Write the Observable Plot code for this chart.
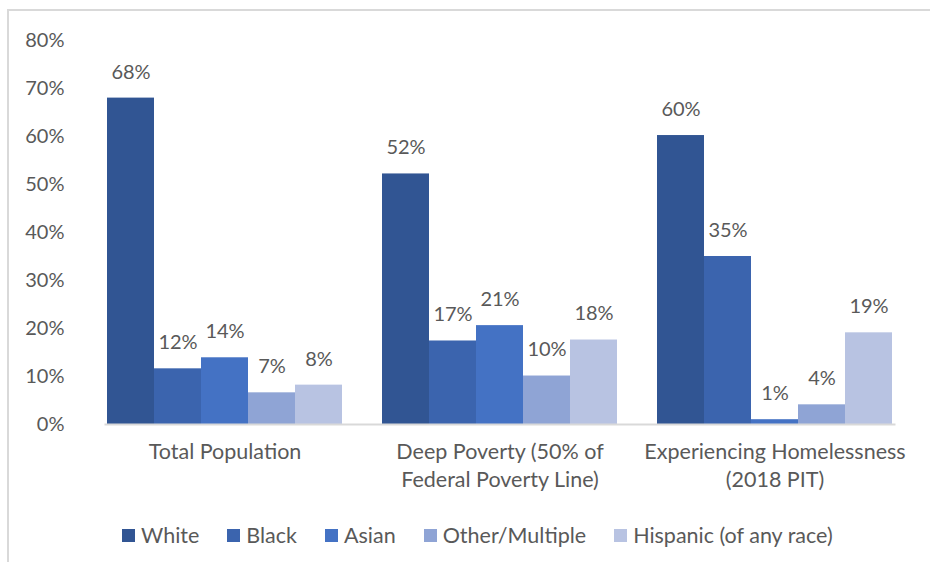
<!DOCTYPE html>
<html><head><meta charset="utf-8">
<script src="https://cdn.jsdelivr.net/npm/d3@7"></script>
<script src="https://cdn.jsdelivr.net/npm/@observablehq/plot@0.6"></script>
<style>
body{margin:0;background:#fff;overflow:hidden;font-family:Lato,sans-serif;width:930px;height:562px;}
#frame{position:absolute;left:7px;top:9px;width:1000px;height:1000px;border:2px solid #d9d9d9;box-sizing:border-box;}
#chart{position:absolute;left:0;top:0;}
#legend{position:absolute;left:122px;top:522px;display:flex;gap:28px;font-size:21.5px;line-height:26px;color:#595959;white-space:nowrap;}
.item{display:flex;align-items:center;}
.sw{width:13px;height:13px;margin-right:6px;}
</style></head><body>
<div id="frame"></div>
<div id="chart"></div>
<div id="legend"></div>
<script>
const groups = ["Total Population", "Deep Poverty (50% of Federal Poverty Line)", "Experiencing Homelessness (2018 PIT)"];
const groupLabels = ["Total Population", "Deep Poverty (50% of\nFederal Poverty Line)", "Experiencing Homelessness\n(2018 PIT)"];
const races = ["White", "Black", "Asian", "Other/Multiple", "Hispanic (of any race)"];
const colors = ["#315593", "#3B64AE", "#4472C4", "#8FA4D5", "#B8C3E2"];
const white = [68.0, 52.2, 60.2];
const black = [11.6, 17.4, 35.0];
const asian = [13.9, 20.6, 1.0];
const other = [6.6, 10.1, 4.1];
const hispanic = [8.2, 17.6, 19.1];
const yTicks = [0, 10, 20, 30, 40, 50, 60, 70, 80];

const series = [white, black, asian, other, hispanic];
const data = [];
races.forEach((r, i) => groups.forEach((g, j) => data.push({group: g, race: r, value: series[i][j]})));

const chart = Plot.plot({
  width: 930, height: 500,
  marginTop: 40, marginBottom: 76, marginLeft: 86, marginRight: 17,
  style: {fontFamily: "Lato, sans-serif", fontSize: "20px", color: "#595959", background: "transparent", overflow: "visible"},
  fx: {domain: groups, paddingInner: 0.13, paddingOuter: 0.065, label: null},
  x: {domain: races, padding: 0, axis: null},
  y: {domain: [0, 80], label: null},
  color: {domain: races, range: colors},
  marks: [
    Plot.axisY(yTicks, {anchor: "left", tickSize: 0, tickPadding: 41, tickFormat: d => d + "%", label: null, fill: "#595959"}),
    Plot.axisFx({anchor: "bottom", tickSize: 0, tickPadding: 15, lineHeight: 1.3, label: null,
      tickFormat: g => groupLabels[groups.indexOf(g)], fill: "#595959", fontSize: 21.5}),
    Plot.barY(data, {fx: "group", x: "race", y: "value", fill: "race"}),
    Plot.text(data, {fx: "group", x: "race", y: "value", text: d => Math.round(d.value) + "%", dy: -26, fill: "#595959"}),
    Plot.frame({anchor: "bottom", stroke: "#d9d9d9", strokeWidth: 2, facet: "super"})
  ]
});
document.getElementById("chart").appendChild(chart);

const legend = document.getElementById("legend");
races.forEach((r, i) => {
  const item = document.createElement("div");
  item.className = "item";
  const sw = document.createElement("span");
  sw.className = "sw";
  sw.style.background = colors[i];
  const t = document.createElement("span");
  t.textContent = r;
  item.appendChild(sw); item.appendChild(t);
  legend.appendChild(item);
});
</script>
</body></html>
